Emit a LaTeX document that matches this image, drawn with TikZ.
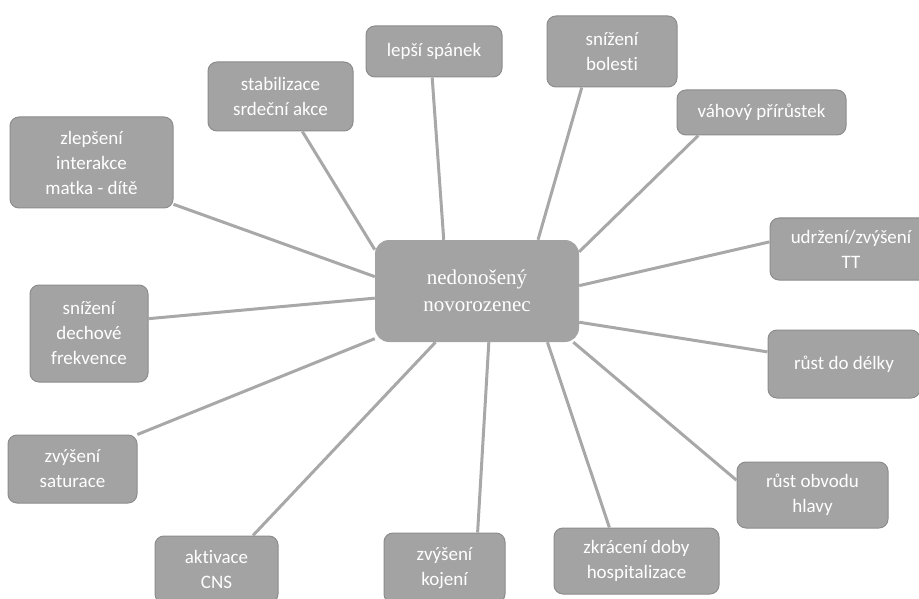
\documentclass[tikz,border=0pt]{standalone}
\usepackage{fontspec}
\setmainfont{Carlito}[Ligatures={NoCommon,NoContextual}]
\newfontfamily\hubfont{Liberation Serif}
\definecolor{boxfill}{HTML}{A3A3A3}
\definecolor{boxline}{HTML}{8C8C8C}
\definecolor{conn}{HTML}{A8A8A8}
\begin{document}
\begin{tikzpicture}[x=1pt,y=-1pt,
  leaf/.style={draw=boxline, line width=1pt, fill=boxfill, rounded corners=9pt,
    text=white, align=center, inner sep=0pt,
    font=\fontsize{19}{25}\selectfont},
  hub/.style={fill=boxfill, rounded corners=14pt, text=white, align=center,
    inner sep=0pt, minimum width=204pt, minimum height=102pt,
    font=\hubfont\fontsize{21}{27}\selectfont},
  link/.style={draw=conn, line width=3pt}]
\path[use as bounding box] (0,0) rectangle (919,599);
\clip (0,0) rectangle (919,599);

\node[hub] (c) at (477,291) {nedonošený\\novorozenec};

\node[leaf, minimum width=163pt, minimum height=91pt] (zlep) at (91.5,162.5) {zlepšení\\interakce\\matka - dítě};
\node[leaf, minimum width=145pt, minimum height=69pt] (stab) at (280.5,96.5) {stabilizace\\srdeční akce};
\node[leaf, minimum width=136pt, minimum height=51pt] (span) at (434,51.5) {lepší spánek};
\node[leaf, minimum width=130pt, minimum height=71pt] (bol) at (612,51.5) {snížení\\bolesti};
\node[leaf, minimum width=169pt, minimum height=45pt] (vaha) at (761.5,112.5) {váhový přírůstek};
\node[leaf, minimum width=162pt, minimum height=62pt] (tt) at (851,249) {udržení/zvýšení\\TT};
\node[leaf, minimum width=152pt, minimum height=68pt] (del) at (844,364) {růst do délky};
\node[leaf, minimum width=151pt, minimum height=66pt] (obv) at (812.5,495) {růst obvodu\\hlavy};
\node[leaf, minimum width=165pt, minimum height=66pt] (zkr) at (636.5,561) {zkrácení doby\\hospitalizace};
\node[leaf, minimum width=121pt, minimum height=70pt] (koj) at (444.5,568) {zvýšení\\kojení};
\node[leaf, minimum width=123pt, minimum height=67pt] (akt) at (216.5,569.5) {aktivace\\CNS};
\node[leaf, minimum width=129pt, minimum height=68pt] (sat) at (72.5,469) {zvýšení\\saturace};
\node[leaf, minimum width=118pt, minimum height=97pt] (dech) at (89,333.5) {snížení\\dechové\\frekvence};

\draw[link] (zlep.-27.5) -- (c.172.7);
\draw[link] (stab.-58.1) -- (c.158.1);
\draw[link] (span.-94.5) -- (c.123.7);
\draw[link] (bol.-130.2) -- (c.40.4);
\draw[link] (vaha.-160.5) -- (c.21.1);
\draw[link] (tt.175.1) -- (c.3.4);
\draw[link] (del.171) -- (c.-17.4);
\draw[link] (obv.169.5) -- (c.-28.2);
\draw[link] (zkr.129.8) -- (c.-36.9);
\draw[link] (koj.47.1) -- (c.-77.8);
\draw[link] (akt.43.3) -- (c.-129.5);
\draw[link] (sat.28.2) -- (c.-155.8);
\draw[link] (dech.14.7) -- (c.-176.6);
\end{tikzpicture}
\end{document}
